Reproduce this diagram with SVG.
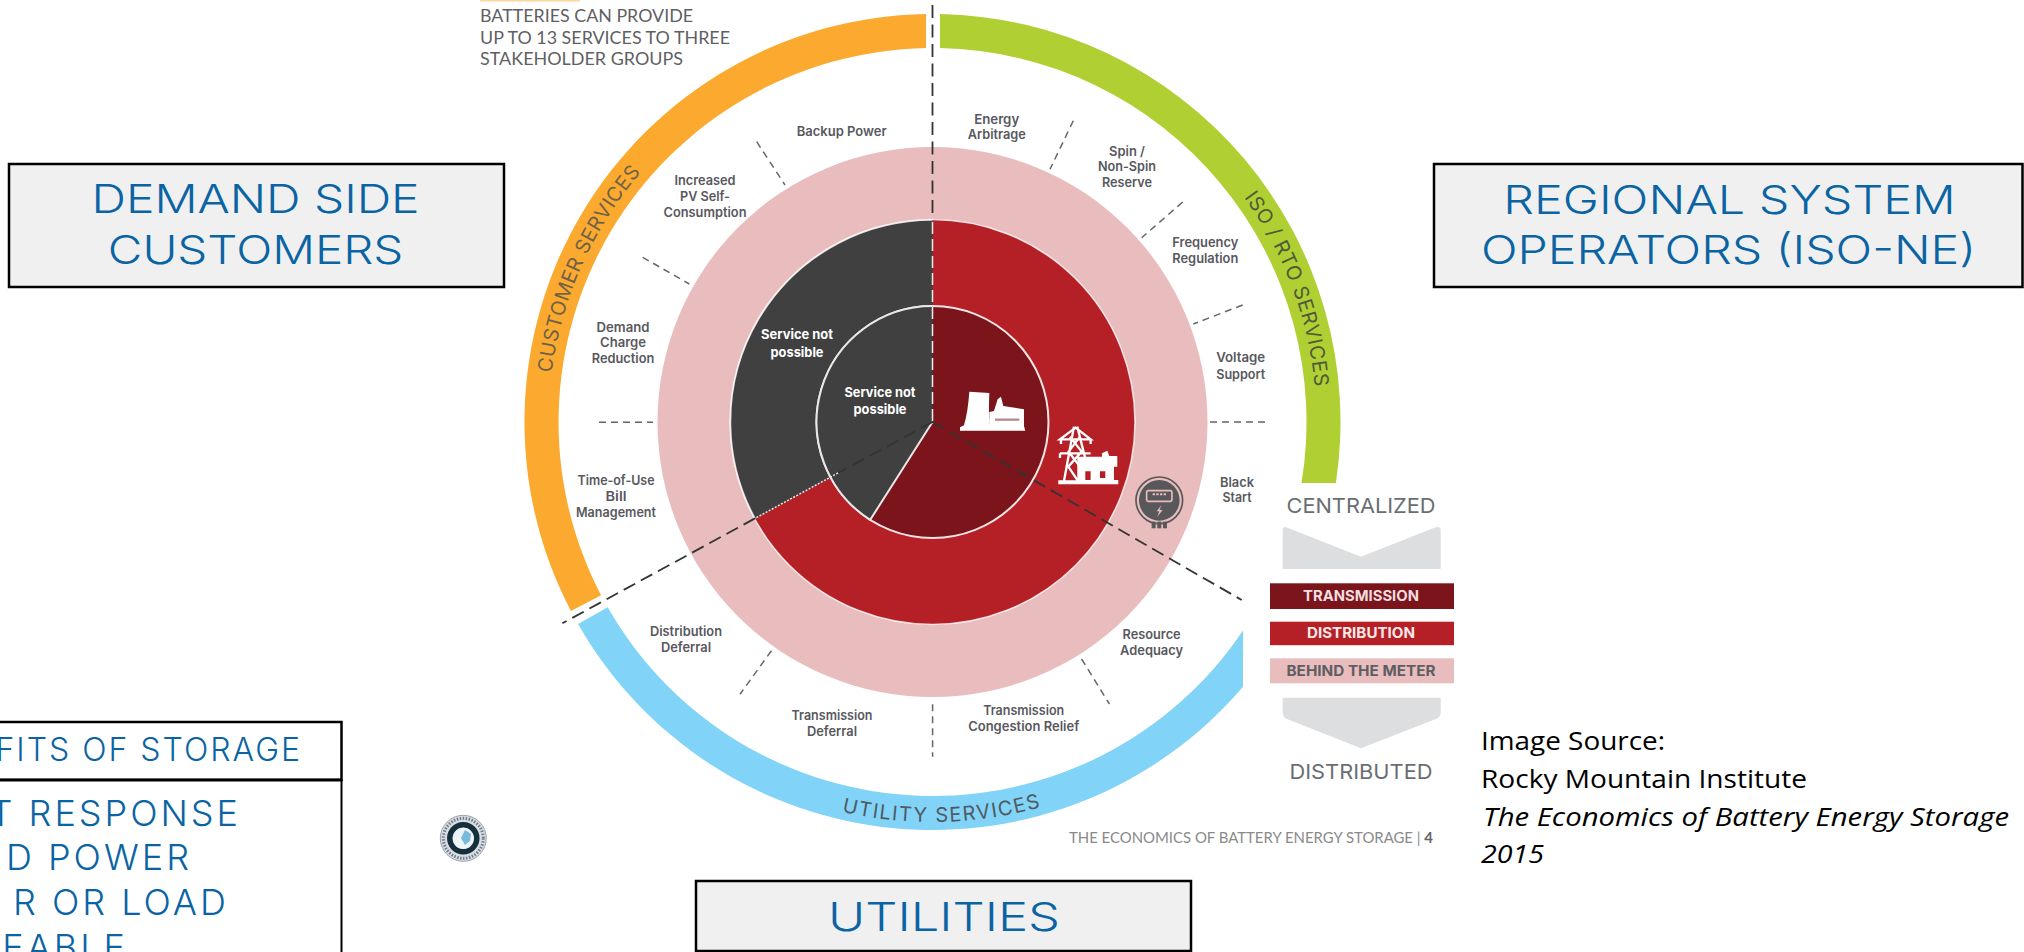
<svg xmlns="http://www.w3.org/2000/svg" width="2024" height="952" viewBox="0 0 2024 952">
<style>
.box{fill:#f0f0f0;stroke:#000;stroke-width:2.5}
.bt{font-family:Inter,"Liberation Sans",sans-serif;font-weight:300;font-size:40px;fill:#0a64a4;text-anchor:middle}
.tb{font-family:Inter,"Liberation Sans",sans-serif;font-weight:300;fill:#0a64a4;text-anchor:end}
.lab{font-family:Inter,"Liberation Sans",sans-serif;font-weight:600;font-size:13px;fill:#58585e;text-anchor:middle}
.np{font-family:Inter,"Liberation Sans",sans-serif;font-weight:700;font-size:13px;fill:#fff;text-anchor:middle}
.ring{font-family:Inter,"Liberation Sans",sans-serif;font-size:20px;text-anchor:middle}
.hd{font-family:Lato,"Liberation Sans",sans-serif;font-size:17px;fill:#5f5f63}
.sc{font-family:Inter,"Liberation Sans",sans-serif;font-size:20.5px;fill:#6a6e73;text-anchor:middle}
.bar{font-family:Inter,"Liberation Sans",sans-serif;font-weight:700;font-size:14px;text-anchor:middle}
.src{font-family:"Open Sans","Liberation Sans",sans-serif;font-size:26px;fill:#000}
.short{fill:none;stroke:#666;stroke-width:1.5;stroke-dasharray:7 5}
.long{fill:none;stroke:#333;stroke-width:1.8;stroke-dasharray:13 6.5}
</style>
<defs>
<path id="arcC" d="M548.5 422A384 384 0 0 1 675.6 136.6"/>
<path id="arcI" d="M1217.9 165.1A384 384 0 0 1 1316.4 428.7"/>
<path id="arcU" d="M804.9 801.1A400 400 0 0 0 1078.5 794.4"/>
</defs>
<rect width="2024" height="952" fill="#fff"/>

<rect x="480" y="0" width="100" height="1.5" fill="#fbd79f"/>
<g id="heading" class="hd">
<text x="480" y="22" textLength="213" lengthAdjust="spacingAndGlyphs">BATTERIES CAN PROVIDE</text>
<text x="480" y="44" textLength="250" lengthAdjust="spacingAndGlyphs">UP TO 13 SERVICES TO THREE</text>
<text x="480" y="65" textLength="203" lengthAdjust="spacingAndGlyphs">STAKEHOLDER GROUPS</text>
</g>

<g id="customer-services">
<path d="M570.9 611A408 408 0 0 1 926 14.05L926 48.1A374 374 0 0 0 601.1 595.3Z" fill="#fca92f"/>
<text class="ring" fill="#6f6246" letter-spacing="0.5"><textPath href="#arcC" startOffset="50%">CUSTOMER SERVICES</textPath></text>
</g>
<g id="iso-rto-services">
<path d="M940 14.07A408 408 0 0 1 1335.9 483L1301.5 483A374 374 0 0 0 940 48.08Z" fill="#b0cf33"/>
<text class="ring" fill="#4f5a3a" letter-spacing="0.6"><textPath href="#arcI" startOffset="50%">ISO / RTO SERVICES</textPath></text>
</g>
<g id="utility-services">
<path d="M578.1 624.1A408 408 0 0 0 1243 686.7L1243 630.5A374 374 0 0 1 607.7 607.3Z" fill="#81d3f7"/>
<text class="ring" fill="#4f5a62" letter-spacing="1.5"><textPath href="#arcU" startOffset="50%">UTILITY SERVICES</textPath></text>
</g>

<g id="behind-the-meter"><circle cx="932.5" cy="422" r="275" fill="#e9bcbd"/></g>
<g id="distribution">
<circle cx="932.5" cy="422" r="202.5" fill="#b52027" stroke="#fff" stroke-opacity=".8" stroke-width="1.5"/>
<path d="M932.5 422L932.5 220A202 202 0 0 0 755 518.4Z" fill="#404040"/>
<path d="M932.5 220A202 202 0 0 0 755 518.4" fill="none" stroke="#fff" stroke-opacity=".8" stroke-width="1.5"/>
</g>
<g id="transmission">
<circle cx="932.5" cy="422" r="116" fill="#7b141b" stroke="#f4e6e6" stroke-width="2"/>
<path d="M932.5 422L932.5 306A116 116 0 0 0 870.2 519.8Z" fill="#404040"/>
<path d="M932.5 306A116 116 0 0 0 870.2 519.8L932.5 422" fill="none" stroke="#e8e8e8" stroke-width="2"/>
</g>

<g id="connectors">
<path class="long" d="M932.5 5V218"/>
<path d="M932.5 222V422" fill="none" stroke="#eee" stroke-width="1.5" stroke-dasharray="12 5"/>
<path class="long" d="M932.5 422L1241.7 600"/>
<path class="long" d="M932.5 422L838 473"/>
<path d="M838 473L755 518.4" fill="none" stroke="#e8e8e8" stroke-width="1.5" stroke-dasharray="2 1.5"/>
<path class="long" d="M755 518.4L562.4 623.3"/>
<path class="short" d="M756.7 141.7L785 185"/>
<path class="short" d="M642.7 257.3L689.3 284"/>
<path class="short" d="M599 422.3H653"/>
<path class="short" d="M1073.3 120.7L1050 169.3"/>
<path class="short" d="M1182.7 202L1141.7 237.7"/>
<path class="short" d="M1242.7 305L1193.3 324"/>
<path class="short" d="M1210 422H1265"/>
<path class="short" d="M771.4 650.7L740 694.3"/>
<path class="short" d="M932.6 704.3V756.7"/>
<path class="short" d="M1081.6 659L1109.4 704"/>
</g>

<g id="labels">
<g id="backup-power"><text class="lab" x="841.7" y="136" textLength="90" lengthAdjust="spacingAndGlyphs">Backup Power</text></g>
<g id="pv-self-consumption"><text class="lab" x="705" y="185" textLength="61" lengthAdjust="spacingAndGlyphs">Increased</text><text class="lab" x="705" y="201" textLength="50" lengthAdjust="spacingAndGlyphs">PV Self-</text><text class="lab" x="705" y="216.7" textLength="83" lengthAdjust="spacingAndGlyphs">Consumption</text></g>
<g id="demand-charge"><text class="lab" x="623" y="331.7" textLength="53" lengthAdjust="spacingAndGlyphs">Demand</text><text class="lab" x="623" y="347.3" textLength="46" lengthAdjust="spacingAndGlyphs">Charge</text><text class="lab" x="623" y="363" textLength="62.5" lengthAdjust="spacingAndGlyphs">Reduction</text></g>
<g id="time-of-use"><text class="lab" x="616" y="485" textLength="77" lengthAdjust="spacingAndGlyphs">Time-of-Use</text><text class="lab" x="616" y="501" textLength="21" lengthAdjust="spacingAndGlyphs">Bill</text><text class="lab" x="616" y="517" textLength="80" lengthAdjust="spacingAndGlyphs">Management</text></g>
<g id="energy-arbitrage"><text class="lab" x="996.7" y="124" textLength="45" lengthAdjust="spacingAndGlyphs">Energy</text><text class="lab" x="996.7" y="139.3" textLength="58" lengthAdjust="spacingAndGlyphs">Arbitrage</text></g>
<g id="spin-reserve"><text class="lab" x="1127" y="155.7" textLength="36" lengthAdjust="spacingAndGlyphs">Spin /</text><text class="lab" x="1127" y="171.3" textLength="58" lengthAdjust="spacingAndGlyphs">Non-Spin</text><text class="lab" x="1127" y="187" textLength="50" lengthAdjust="spacingAndGlyphs">Reserve</text></g>
<g id="frequency-regulation"><text class="lab" x="1205.3" y="247.3" textLength="66" lengthAdjust="spacingAndGlyphs">Frequency</text><text class="lab" x="1205.3" y="263.3" textLength="66" lengthAdjust="spacingAndGlyphs">Regulation</text></g>
<g id="voltage-support"><text class="lab" x="1240.7" y="362" textLength="49" lengthAdjust="spacingAndGlyphs">Voltage</text><text class="lab" x="1240.7" y="379" textLength="49" lengthAdjust="spacingAndGlyphs">Support</text></g>
<g id="black-start"><text class="lab" x="1237" y="486.7" textLength="34" lengthAdjust="spacingAndGlyphs">Black</text><text class="lab" x="1237" y="502" textLength="29" lengthAdjust="spacingAndGlyphs">Start</text></g>
<g id="resource-adequacy"><text class="lab" x="1151.6" y="639.3" textLength="58" lengthAdjust="spacingAndGlyphs">Resource</text><text class="lab" x="1151.6" y="655" textLength="63" lengthAdjust="spacingAndGlyphs">Adequacy</text></g>
<g id="congestion-relief"><text class="lab" x="1023.7" y="715" textLength="81" lengthAdjust="spacingAndGlyphs">Transmission</text><text class="lab" x="1023.7" y="730.7" textLength="111" lengthAdjust="spacingAndGlyphs">Congestion Relief</text></g>
<g id="transmission-deferral"><text class="lab" x="832" y="720" textLength="81" lengthAdjust="spacingAndGlyphs">Transmission</text><text class="lab" x="832" y="735.7" textLength="50" lengthAdjust="spacingAndGlyphs">Deferral</text></g>
<g id="distribution-deferral"><text class="lab" x="686" y="635.7" textLength="72" lengthAdjust="spacingAndGlyphs">Distribution</text><text class="lab" x="686" y="651.7" textLength="50" lengthAdjust="spacingAndGlyphs">Deferral</text></g>
<g id="not-possible-distribution"><text class="np" x="797" y="339.3" textLength="72" lengthAdjust="spacingAndGlyphs">Service not</text><text class="np" x="797" y="357" textLength="53" lengthAdjust="spacingAndGlyphs">possible</text></g>
<g id="not-possible-transmission"><text class="np" x="880" y="396.7" textLength="71" lengthAdjust="spacingAndGlyphs">Service not</text><text class="np" x="880" y="414.3" textLength="53" lengthAdjust="spacingAndGlyphs">possible</text></g>
</g>

<g id="icon-plant" transform="translate(700 280) scale(.3333)">
<path fill="#fff" d="M780 452V442L792 436Q804 395 808 335L868 339Q866 395 868 432L868 396L882 393L893 358L903 350L910 378L972 388V438L976 452Z"/>
<path d="M885 419H958" stroke="#b58a8d" stroke-width="7"/>
</g>
<g id="icon-tower-house" transform="translate(700 280) scale(.3333)">
<g fill="none" stroke="#fff" stroke-width="7">
<path d="M1122 440L1092 604M1132 440L1162 560M1080 478H1172L1127 443ZM1080 520H1172M1083 478V492M1172 478V492M1080 520V534M1110 470L1145 515L1105 560L1135 604M1140 470L1106 515L1140 560"/>
</g>
<path fill="#fff" fill-rule="evenodd" d="M1132 530H1206V520L1222 512L1228 528H1252V560H1242V600H1255V613H1075V601H1132ZM1156 574V600H1172V574ZM1200 574V594H1216V574Z"/>
</g>
<g id="icon-meter" transform="translate(700 280) scale(.3333)">
<rect x="1355" y="725" width="12" height="20" fill="#58585a"/><rect x="1372" y="725" width="12" height="20" fill="#58585a"/><rect x="1389" y="725" width="12" height="20" fill="#58585a"/>
<circle cx="1378" cy="661" r="70" fill="none" stroke="#58585a" stroke-width="5"/>
<circle cx="1378" cy="661" r="61" fill="#58585a"/>
<rect x="1340" y="632" width="76" height="32" rx="5" fill="none" stroke="#e9bcbd" stroke-width="5"/>
<path d="M1358 643H1400" stroke="#e9bcbd" stroke-width="6" stroke-dasharray="7 4"/>
<path d="M1384 676L1370 694H1378L1372 710L1388 690H1379Z" fill="#e9bcbd"/>
</g>

<g id="scale">
<text class="sc" x="1361" y="513.3" textLength="149" lengthAdjust="spacingAndGlyphs">CENTRALIZED</text>
<path d="M1282.7 530Q1282.7 526 1287 527.5L1361 556.7L1435 527.5Q1440.7 526 1440.7 530V569H1282.7Z" fill="#dddedf"/>
<g id="scale-transmission"><rect x="1270" y="583.3" width="184" height="25.7" fill="#7b141b"/><text class="bar" x="1361" y="601" fill="#f3dfe0" textLength="116" lengthAdjust="spacingAndGlyphs">TRANSMISSION</text></g>
<g id="scale-distribution"><rect x="1270" y="621.7" width="184" height="23.5" fill="#b52027"/><text class="bar" x="1361" y="637.7" fill="#f9e9e9" textLength="108" lengthAdjust="spacingAndGlyphs">DISTRIBUTION</text></g>
<g id="scale-btm"><rect x="1270" y="658.3" width="184" height="25" fill="#e9bcbd"/><text class="bar" x="1361" y="675.7" fill="#5e5e62" textLength="149" lengthAdjust="spacingAndGlyphs">BEHIND THE METER</text></g>
<path d="M1282.7 697.7H1440.7V712Q1440.7 717 1436 719L1361 748.3L1287 719Q1282.7 717 1282.7 712Z" fill="#dddedf"/>
<text class="sc" x="1361" y="779.3" textLength="143" lengthAdjust="spacingAndGlyphs">DISTRIBUTED</text>
</g>

<text id="caption" x="1069" y="843.3" font-family="Lato,'Liberation Sans',sans-serif" font-size="15" fill="#8a8a8a" textLength="364" lengthAdjust="spacingAndGlyphs">THE ECONOMICS OF BATTERY ENERGY STORAGE | <tspan font-weight="700" fill="#666">4</tspan></text>

<g id="demand-side-customers">
<rect class="box" x="9" y="164" width="495" height="123"/>
<text class="bt" x="255.6" y="213.3" textLength="328" lengthAdjust="spacingAndGlyphs">DEMAND SIDE</text>
<text class="bt" x="255.6" y="264.3" textLength="295.5" lengthAdjust="spacingAndGlyphs">CUSTOMERS</text>
</g>
<g id="regional-system-operators">
<rect class="box" x="1434" y="164" width="588.5" height="123"/>
<text class="bt" x="1729.5" y="214" textLength="452.5" lengthAdjust="spacingAndGlyphs">REGIONAL SYSTEM</text>
<text class="bt" x="1728.5" y="264.3" textLength="495" lengthAdjust="spacingAndGlyphs">OPERATORS (ISO-NE)</text>
</g>
<g id="utilities">
<rect class="box" x="696" y="881" width="495" height="70"/>
<text class="bt" x="944" y="930.7" textLength="232" lengthAdjust="spacingAndGlyphs">UTILITIES</text>
</g>

<g id="benefits">
<rect x="-5" y="722" width="346.5" height="58" fill="#fff" stroke="#000" stroke-width="2.5"/>
<rect x="-5" y="780" width="346.5" height="180" fill="#fff" stroke="#000" stroke-width="2"/>
<path d="M-5 780H341.5" stroke="#000" stroke-width="3"/>
<text class="tb" x="302" y="761" font-size="32" letter-spacing="2">FITS OF STORAGE</text>
<text class="tb" x="241" y="825.7" font-size="36" letter-spacing="3">T RESPONSE</text>
<text class="tb" x="192" y="870" font-size="36" letter-spacing="3">D POWER</text>
<text class="tb" x="229" y="915" font-size="36" letter-spacing="3">R OR LOAD</text>
<text class="tb" x="128" y="959.7" font-size="36" letter-spacing="3">EABLE</text>
</g>

<g id="logo">
<circle cx="463.3" cy="838.3" r="23" fill="#d9dde2" stroke="#9aa4ad" stroke-width="1"/>
<circle cx="463.3" cy="838.3" r="20" fill="none" stroke="#6d7c8c" stroke-width="3" stroke-dasharray="1.5 1.5"/>
<circle cx="463.3" cy="838.3" r="13.5" fill="none" stroke="#14303c" stroke-width="5.5"/>
<circle cx="463.3" cy="838.3" r="10.5" fill="#eef5f8"/>
<path d="M465 830L471 834L470 841L465 845L461 838Z" fill="#79b9dc"/>
</g>

<g id="source">
<text class="src" x="1481" y="750" textLength="184" lengthAdjust="spacingAndGlyphs">Image Source:</text>
<text class="src" x="1481" y="788" textLength="326" lengthAdjust="spacingAndGlyphs">Rocky Mountain Institute</text>
<text class="src" x="1483" y="825.5" font-style="italic" textLength="526" lengthAdjust="spacingAndGlyphs">The Economics of Battery Energy Storage</text>
<text class="src" x="1481" y="863" font-style="italic" textLength="63" lengthAdjust="spacingAndGlyphs">2015</text>
</g>
</svg>
